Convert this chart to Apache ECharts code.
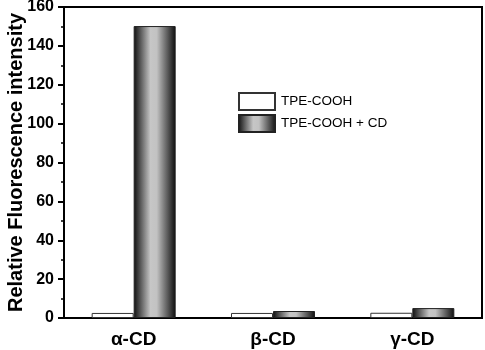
<!DOCTYPE html>
<html>
<head>
<meta charset="utf-8">
<script src="https://cdn.jsdelivr.net/npm/echarts@6/dist/echarts.min.js"></script>
<style>
html, body { margin: 0; padding: 0; background: #fff; }
#chart { width: 485px; height: 350px; }
</style>
</head>
<body>
<div id="chart"></div>
<script>
var categories = ['α-CD', 'β-CD', 'γ-CD'];
var tpe = [2.6, 2.6, 2.7];
var tpeCD = [150.2, 3.6, 5.1];
var seriesNames = ['TPE-COOH', 'TPE-COOH + CD'];

// cylinder-like shading
var cylinder = new echarts.graphic.LinearGradient(0, 0, 1, 0, [
    { offset: 0, color: '#0d0d0d' },
    { offset: 0.4, color: '#c6c6c6' },
    { offset: 0.55, color: '#c2c2c2' },
    { offset: 1, color: '#0d0d0d' }
]);

var dom = document.getElementById('chart');
var myChart = echarts.init(dom, null, { renderer: 'canvas' });

var option = {
    animation: false,
    grid: {
        left: 64,
        right: 3,
        top: 7,
        bottom: 32,
        containLabel: false,
        outerBoundsMode: 'none',
        show: true,
        borderColor: '#000',
        borderWidth: 2,
        backgroundColor: 'transparent'
    },
    legend: {
        left: 238,
        top: 92,
        padding: 0,
        orient: 'vertical',
        icon: 'rect',
        itemWidth: 36,
        itemHeight: 17,
        itemGap: 3,
        textStyle: {
            fontFamily: 'Liberation Sans',
            fontSize: 13.5,
            color: '#000',
            padding: [0, 0, 0, 1]
        },
        data: seriesNames
    },
    xAxis: {
        type: 'category',
        data: categories,
        axisLine: { lineStyle: { color: '#000', width: 2 } },
        axisTick: { show: false },
        axisLabel: {
            margin: 12,
            fontFamily: 'Liberation Sans',
            fontWeight: 'bold',
            fontSize: 19,
            color: '#000'
        }
    },
    yAxis: {
        type: 'value',
        min: 0,
        max: 160,
        interval: 20,
        name: 'Relative Fluorescence intensity',
        nameLocation: 'middle',
        nameGap: 38,
        nameMoveOverlap: false,
        nameTextStyle: {
            fontFamily: 'Liberation Sans',
            fontWeight: 'bold',
            fontSize: 20,
            color: '#000'
        },
        splitLine: { show: false },
        axisLine: { show: true, lineStyle: { color: '#000', width: 2 } },
        axisTick: { show: true, length: 6, lineStyle: { color: '#000', width: 2 } },
        minorTick: { show: true, splitNumber: 2, length: 3, lineStyle: { color: '#000', width: 1.5 } },
        axisLabel: {
            margin: 10,
            fontFamily: 'Liberation Sans',
            fontWeight: 'bold',
            fontSize: 16,
            color: '#000'
        }
    },
    series: [
        {
            name: seriesNames[0],
            type: 'bar',
            data: tpe,
            barWidth: 42,
            barGap: '0%',
            itemStyle: { color: '#ffffff', borderColor: '#333', borderWidth: 1 }
        },
        {
            name: seriesNames[1],
            type: 'bar',
            data: tpeCD,
            barWidth: 42,
            itemStyle: { color: cylinder, borderColor: '#222', borderWidth: 1 }
        }
    ]
};
myChart.setOption(option);
</script>
</body>
</html>
